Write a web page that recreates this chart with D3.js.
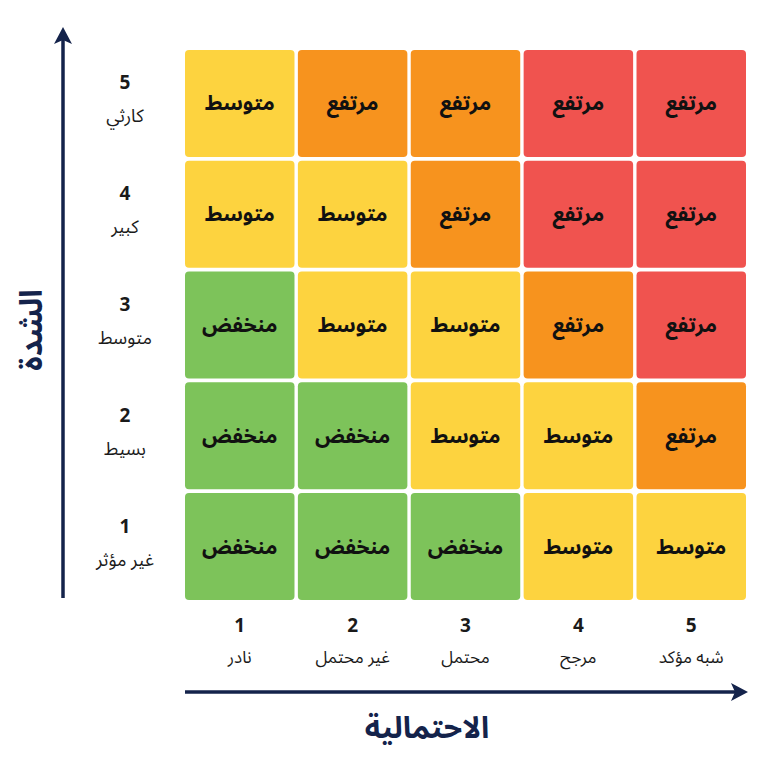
<!DOCTYPE html>
<html><head><meta charset="utf-8">
<script src="https://cdn.jsdelivr.net/npm/d3@7"></script>
<style>
html,body{margin:0;padding:0;background:#ffffff;}
svg{display:block;}
text{font-family:"Noto Sans Arabic","Noto Sans","DejaVu Sans",sans-serif;}
</style></head>
<body><svg id="c" width="780" height="780"></svg>
<script>
const likelihood = [1, 2, 3, 4, 5];
const likelihoodLabels = ["نادر", "غير محتمل", "محتمل", "مرجح", "شبه مؤكد"];
const severity = [5, 4, 3, 2, 1];
const severityLabels = ["كارثي", "كبير", "متوسط", "بسيط", "غير مؤثر"];
// level per cell: 0 low (green), 1 medium (yellow), 2 high (orange), 3 high (red); rows = severity 5..1
const levels = [
  [1, 2, 2, 3, 3],
  [1, 1, 2, 3, 3],
  [0, 1, 1, 2, 3],
  [0, 0, 1, 1, 2],
  [0, 0, 0, 1, 1]
];
const levelNames = ["منخفض", "متوسط", "مرتفع", "مرتفع"];
const levelColors = ["#7DC35A", "#FDD33F", "#F7931E", "#F0534F"];
const xTitle = "الاحتمالية";
const yTitle = "الشدة";

const svg = d3.select("#c");
const navy = "#14234B";
const x = d3.scaleBand().domain(likelihood).range([185, 746]).paddingInner(0.03);
const y = d3.scaleBand().domain(severity).range([50, 600]).paddingInner(0.035);
const color = d3.scaleOrdinal().domain([0,1,2,3]).range(levelColors);

const cells = [];
severity.forEach((s, i) => likelihood.forEach((l, j) => cells.push({s, l, lv: levels[i][j]})));

svg.append("g").selectAll("rect").data(cells).join("rect")
  .attr("x", d => x(d.l)).attr("y", d => y(d.s))
  .attr("width", x.bandwidth()).attr("height", y.bandwidth())
  .attr("rx", 4).attr("fill", d => color(d.lv));

svg.append("g").selectAll("text").data(cells).join("text")
  .attr("x", d => x(d.l) + x.bandwidth()/2)
  .attr("y", d => y(d.s) + y.bandwidth()/2)
  .attr("text-anchor", "middle").attr("dominant-baseline", "central")
  .attr("font-size", 21).attr("font-weight", 700).attr("fill", "#111")
  .text(d => levelNames[d.lv]);

// Y axis arrow
const yAxisX = 63;
svg.append("line").attr("x1", yAxisX).attr("x2", yAxisX).attr("y1", 598).attr("y2", 36)
  .attr("stroke", navy).attr("stroke-width", 3.5);
svg.append("path").attr("d", `M${yAxisX-9},${44} L${yAxisX},${27} L${yAxisX+9},${44} L${yAxisX},${40} Z`).attr("fill", navy);

// X axis arrow
const xAxisY = 692;
svg.append("line").attr("x1", 185).attr("x2", 740).attr("y1", xAxisY).attr("y2", xAxisY)
  .attr("stroke", navy).attr("stroke-width", 3.5);
svg.append("path").attr("d", `M${731},${xAxisY-9} L${748},${xAxisY} L${731},${xAxisY+9} L${735},${xAxisY} Z`).attr("fill", navy);

// Y tick labels
const yl = svg.append("g").selectAll("g").data(severity).join("g");
yl.append("text").attr("x", 125).attr("y", d => y(d) + y.bandwidth()/2 - 20)
  .attr("text-anchor", "middle").attr("dominant-baseline", "central").attr("fill", "#1a1a1a")
  .attr("font-size", 19).attr("font-weight", 700).text(d => d);
yl.append("text").attr("x", 125).attr("y", d => y(d) + y.bandwidth()/2 + 13)
  .attr("text-anchor", "middle").attr("dominant-baseline", "central").attr("fill", "#1a1a1a")
  .attr("font-size", 18).text((d, i) => severityLabels[i]);

// X tick labels
const xl = svg.append("g").selectAll("g").data(likelihood).join("g");
xl.append("text").attr("x", d => x(d) + x.bandwidth()/2).attr("y", 626)
  .attr("text-anchor", "middle").attr("dominant-baseline", "central").attr("fill", "#1a1a1a")
  .attr("font-size", 19).attr("font-weight", 700).text(d => d);
xl.append("text").attr("x", d => x(d) + x.bandwidth()/2).attr("y", 658)
  .attr("text-anchor", "middle").attr("dominant-baseline", "central").attr("fill", "#1a1a1a")
  .attr("font-size", 17).text((d, i) => likelihoodLabels[i]);

// Titles
svg.append("text").attr("x", 427).attr("y", 728)
  .attr("text-anchor", "middle").attr("dominant-baseline", "central")
  .attr("font-size", 30).attr("font-weight", 700).attr("fill", navy).text(xTitle);
svg.append("text").attr("transform", "translate(32,330) rotate(-90)")
  .attr("text-anchor", "middle").attr("dominant-baseline", "central")
  .attr("font-size", 31).attr("font-weight", 700).attr("fill", navy).text(yTitle);
</script></body></html>
